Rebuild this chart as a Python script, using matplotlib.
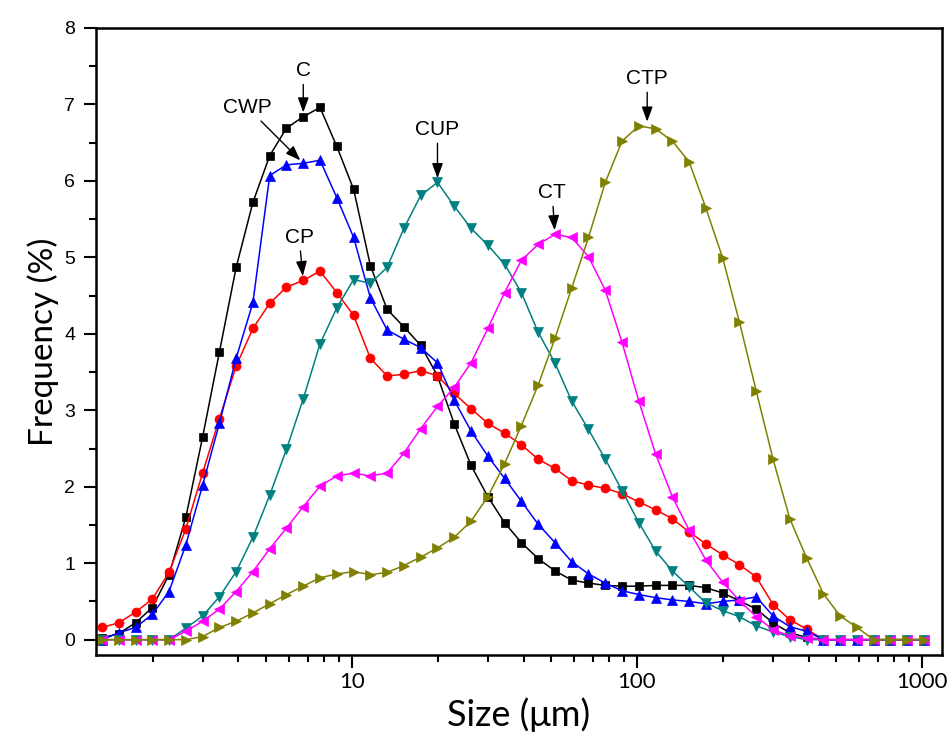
import numpy as np
import matplotlib
matplotlib.use("Agg")
import matplotlib.pyplot as plt
from matplotlib.ticker import LogLocator, FixedLocator, NullFormatter, MultipleLocator

# Particle size bins (µm)
size = [1.327, 1.520, 1.741, 1.993, 2.283, 2.614, 2.994, 3.428, 3.926, 4.495,
        5.148, 5.895, 6.750, 7.730, 8.851, 10.14, 11.61, 13.29, 15.22, 17.43,
        19.96, 22.86, 26.17, 29.98, 34.32, 39.30, 45.01, 51.54, 59.02, 67.58,
        77.40, 88.63, 101.5, 116.2, 133.1, 152.4, 174.6, 199.9, 228.9, 262.1,
        300.2, 343.8, 393.6, 450.8, 516.2, 591.1, 676.9, 775.1, 887.7, 1016.0]

C = [0.02, 0.08, 0.22, 0.42, 0.85, 1.60, 2.65, 3.76, 4.87, 5.72,
     6.33, 6.69, 6.84, 6.96, 6.45, 5.89, 4.89, 4.32, 4.09, 3.85,
     3.45, 2.82, 2.28, 1.87, 1.53, 1.27, 1.06, 0.90, 0.78, 0.74,
     0.71, 0.70, 0.70, 0.71, 0.71, 0.71, 0.68, 0.61, 0.51, 0.40,
     0.22, 0.09, 0.03, 0, 0, 0, 0, 0, 0, 0]

CP = [0.16, 0.22, 0.36, 0.53, 0.88, 1.45, 2.18, 2.89, 3.58, 4.07,
      4.40, 4.61, 4.70, 4.82, 4.54, 4.24, 3.68, 3.45, 3.47, 3.52,
      3.45, 3.22, 3.02, 2.83, 2.70, 2.55, 2.36, 2.24, 2.08, 2.02,
      1.98, 1.91, 1.80, 1.70, 1.58, 1.41, 1.25, 1.11, 0.98, 0.82,
      0.46, 0.26, 0.14, 0, 0, 0, 0, 0, 0, 0]

CWP = [0, 0.09, 0.16, 0.33, 0.63, 1.24, 2.02, 2.83, 3.68, 4.41,
       6.07, 6.21, 6.23, 6.27, 5.78, 5.26, 4.47, 4.05, 3.93, 3.82,
       3.62, 3.13, 2.73, 2.40, 2.11, 1.81, 1.51, 1.27, 1.02, 0.86,
       0.74, 0.64, 0.59, 0.55, 0.52, 0.50, 0.47, 0.50, 0.52, 0.56,
       0.31, 0.17, 0.11, 0, 0, 0, 0, 0, 0, 0]

CUP = [0, 0, 0, 0, 0, 0.15, 0.31, 0.56, 0.89, 1.34,
       1.89, 2.49, 3.15, 3.87, 4.34, 4.71, 4.66, 4.87, 5.38, 5.81,
       5.98, 5.67, 5.38, 5.16, 4.91, 4.54, 4.02, 3.62, 3.12, 2.75,
       2.36, 1.95, 1.53, 1.16, 0.90, 0.69, 0.48, 0.38, 0.30, 0.18,
       0.10, 0.04, 0, 0, 0, 0, 0, 0, 0, 0]

CT = [0, 0, 0, 0, 0, 0.11, 0.24, 0.40, 0.63, 0.89,
      1.19, 1.46, 1.74, 2.01, 2.14, 2.18, 2.14, 2.18, 2.44, 2.76,
      3.05, 3.30, 3.62, 4.07, 4.54, 4.96, 5.17, 5.30, 5.26, 5.01,
      4.57, 3.89, 3.12, 2.43, 1.87, 1.43, 1.04, 0.75, 0.51, 0.30,
      0.13, 0.05, 0.02, 0, 0, 0, 0, 0, 0, 0]

CTP = [0, 0, 0, 0, 0, 0, 0.04, 0.16, 0.24, 0.35,
       0.47, 0.59, 0.70, 0.81, 0.86, 0.89, 0.85, 0.88, 0.97, 1.08,
       1.20, 1.34, 1.55, 1.87, 2.30, 2.80, 3.33, 3.94, 4.60, 5.26,
       5.98, 6.52, 6.72, 6.68, 6.52, 6.25, 5.64, 4.99, 4.15, 3.25,
       2.36, 1.58, 1.07, 0.60, 0.31, 0.16, 0, 0, 0, 0]

labels = ["C", "CP", "CWP", "CUP", "CT", "CTP"]
yticks = [0, 1, 2, 3, 4, 5, 6, 7, 8]
xticks = [10, 100, 1000]
xticklabels = ["10", "100", "1000"]

fig = plt.figure(figsize=(9.52, 7.40), dpi=100)
ax = fig.add_axes([0.1008, 0.1149, 0.8887, 0.8473])

styles = [
    (C, "#000000", "s", 5.5),
    (CP, "#ff0000", "o", 6.5),
    (CWP, "#0000ff", "^", 7.5),
    (CUP, "#008080", "v", 7.5),
    (CT, "#ff00ff", "<", 7.5),
    (CTP, "#808000", ">", 7.5),
]
for data, col, mk, ms in styles:
    ax.plot(size, data, color=col, marker=mk, markersize=ms, linewidth=1.1,
            markeredgewidth=0.5, markeredgecolor=col)

ax.set_xscale("log")
ax.set_xlim(1.265, 1175)
ax.set_ylim(-0.2, 8)

ax.xaxis.set_major_locator(FixedLocator(xticks))
ax.set_xticklabels(xticklabels)
ax.xaxis.set_minor_locator(LogLocator(base=10, subs=np.arange(2, 10)))
ax.xaxis.set_minor_formatter(NullFormatter())
ax.set_yticks(yticks)
ax.yaxis.set_minor_locator(MultipleLocator(0.5))

for lab in ax.get_yticklabels():
    lab.set_fontfamily("Liberation Sans")
    lab.set_fontsize(14)
for lab in ax.get_xticklabels():
    lab.set_fontfamily("Lato")
    lab.set_fontsize(16)

ax.tick_params(axis="both", which="major", direction="out", length=9, width=1.5)
ax.tick_params(axis="both", which="minor", direction="out", length=5, width=1.5)
ax.tick_params(axis="y", which="major", pad=6)
ax.tick_params(axis="x", which="major", pad=3)
ax.tick_params(top=False, right=False)
for sp in ax.spines.values():
    sp.set_linewidth(1.8)

ax.set_xlabel("Size (μm)", fontfamily="Lato", fontsize=26, labelpad=4)
ax.set_ylabel("Frequency (%)", fontfamily="Lato", fontsize=24, labelpad=4)

arrow = dict(arrowstyle="-|>,head_length=0.6,head_width=0.22", color="black",
             lw=1.0, shrinkA=1, shrinkB=3)
afont = dict(fontfamily="Liberation Sans", fontsize=15, ha="center", va="center")

ax.annotate("C", xy=(size[12], C[12]), xytext=(0, 33), textcoords="offset points",
            arrowprops=arrow, **afont)
ax.annotate("CWP", xy=(size[12], CWP[12]), xytext=(-40, 40), textcoords="offset points",
            arrowprops=arrow, **afont)
ax.annotate("CP", xy=(size[12], CP[12]), xytext=(-3, 31), textcoords="offset points",
            arrowprops=arrow, **afont)
ax.annotate("CUP", xy=(size[20], CUP[20]), xytext=(0, 38), textcoords="offset points",
            arrowprops=arrow, **afont)
ax.annotate("CT", xy=(size[27], CT[27]), xytext=(-2, 30), textcoords="offset points",
            arrowprops=arrow, **afont)
ax.annotate("CTP", xy=(np.sqrt(size[32] * size[33]), CTP[32]), xytext=(0, 34),
            textcoords="offset points", arrowprops=arrow, **afont)

fig.savefig("out.png", dpi=100, facecolor="white")
